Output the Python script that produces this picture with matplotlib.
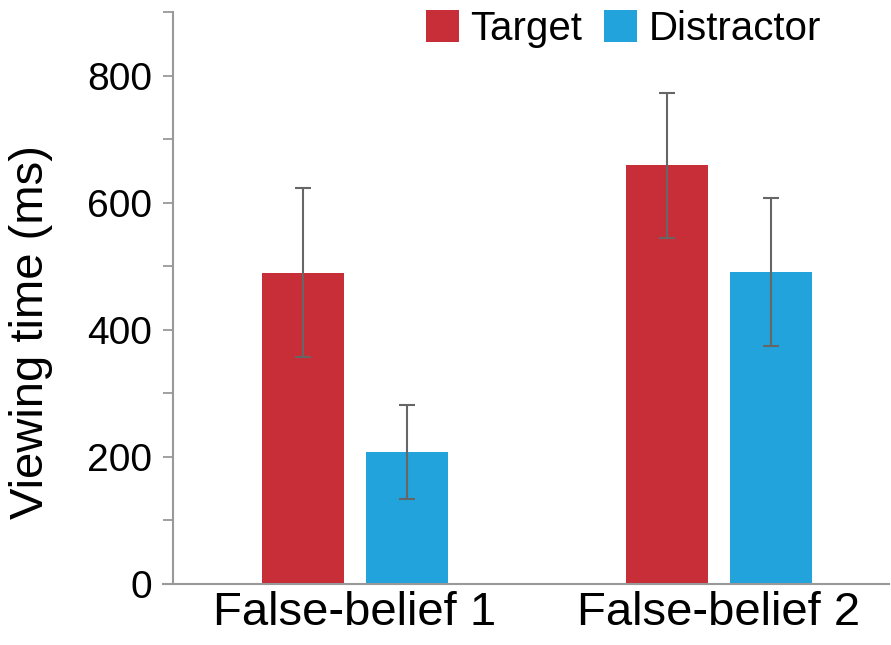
import numpy as np
import matplotlib
matplotlib.use("Agg")
import matplotlib.pyplot as plt

plt.rcParams['font.family'] = ['Liberation Sans', 'DejaVu Sans']

# data
conditions = ["False-belief 1", "False-belief 2"]
target_mean = [490, 659]
target_err = [133, 114]
distractor_mean = [208, 491]
distractor_err = [74, 116]

red = "#c82e38"
blue = "#22a3db"

fig = plt.figure(figsize=(8.91, 6.45), dpi=100)
# axes box in pixels: left 163, right 889, bottom 584, top 12
ax = fig.add_axes([163/891, 61/645, 726/891, 572/645])

x = np.arange(len(conditions))
w = 0.225
off = 0.143
ekw = dict(ecolor="#666666", elinewidth=1.5, capsize=5.5, capthick=1.5)

ax.bar(x - off, target_mean, w, yerr=target_err, color=red, label="Target",
       error_kw=ekw)
ax.bar(x + off, distractor_mean, w, yerr=distractor_err, color=blue,
       label="Distractor", error_kw=ekw)

ax.set_xlim(-0.527, 1.467)
ax.set_ylim(0, 900)
ax.set_xticks(x)
ax.set_xticklabels(conditions, fontsize=34)
ax.set_yticks(np.arange(0, 801, 200))
ax.set_yticks(np.arange(100, 901, 200), minor=True)
ax.tick_params(axis="y", which="both", length=7, width=1.3, color="#999999",
               labelsize=28, pad=8)
ax.tick_params(axis="x", length=0, pad=5)

for s in ["top", "right"]:
    ax.spines[s].set_visible(False)
ax.spines["left"].set_position(("axes", 10/726))
for s in ["left", "bottom"]:
    ax.spines[s].set_color("#999999")
    ax.spines[s].set_linewidth(1.5)

ax.set_ylabel("Viewing time (ms)", fontsize=34)
ax.yaxis.set_label_coords(-0.152, 0.44)

leg = fig.legend(loc="center left", bbox_to_anchor=(426/891, 1 - 29/645),
                 ncol=2, frameon=False, fontsize=29, borderpad=0,
                 handlelength=0.82, handleheight=0.82, handletextpad=0.28,
                 columnspacing=0.55, borderaxespad=0)

fig.savefig("out.png", dpi=100)
